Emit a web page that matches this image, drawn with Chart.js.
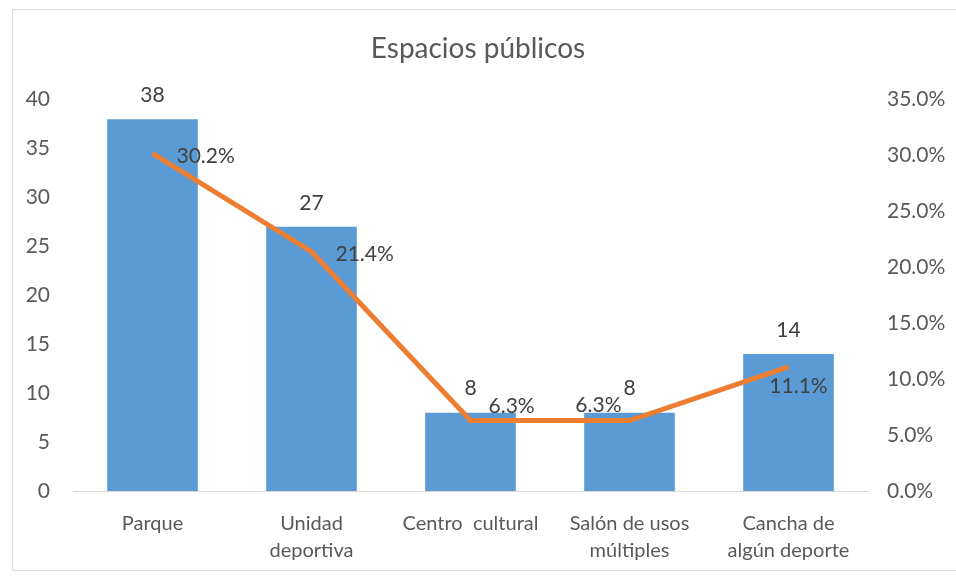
<!DOCTYPE html>
<html>
<head>
<meta charset="utf-8">
<script src="https://cdn.jsdelivr.net/npm/chart.js@4.4.0/dist/chart.umd.min.js"></script>
<style>
    html, body { margin: 0; padding: 0; background: #fff; }
    #wrap { position: relative; width: 956px; height: 577px; }
    #frame {
        position: absolute; left: 12px; top: 9px;
        width: 950px; height: 562px;
        border: 1px solid #d9d9d9; box-sizing: border-box;
    }
    canvas { position: absolute; left: 0; top: 0; }
</style>
</head>
<body>
<div id="wrap">
    <div id="frame"></div>
    <canvas id="chart" width="956" height="577"></canvas>
</div>
<script>
// chart data
const categories = ['Parque', ['Unidad', 'deportiva'], 'Centro  cultural',
                    ['Salón de usos', 'múltiples'], ['Cancha de', 'algún deporte']];
const counts = [38, 27, 8, 8, 14];
const shares = [30.2, 21.4, 6.3, 6.3, 11.1];
const countAxis = [0, 40, 5];    // min, max, step
const shareAxis = [0, 35, 5];    // min, max, step (percent)

const textColor = '#595959';
const fontFamily = 'Lato, "Open Sans", sans-serif';

// where each percentage label sits relative to its line point
const shareLabelAnchor = ['right', 'right', 'above-right', 'above-left', 'below'];

const valueLabels = {
    id: 'valueLabels',
    afterDatasetsDraw(chart) {
        const ctx = chart.ctx;
        ctx.save();
        ctx.fillStyle = '#404040';
        ctx.font = '21px ' + fontFamily;
        ctx.textBaseline = 'middle';

        // bar counts, centered above each bar
        ctx.textAlign = 'center';
        chart.getDatasetMeta(0).data.forEach((el, i) => {
            ctx.fillText(String(counts[i]), el.x, el.y - 24);
        });

        // percentages next to the line points
        chart.getDatasetMeta(1).data.forEach((el, i) => {
            let txt = shares[i].toFixed(1) + '%';
            let x = el.x, y = el.y;
            switch (shareLabelAnchor[i]) {
                case 'right':
                    ctx.textAlign = 'left'; x += 24; y += 3; break;
                case 'above-right':
                    ctx.textAlign = 'left'; x += 18; y -= 14; break;
                case 'above-left':
                    ctx.textAlign = 'right'; x -= 8; y -= 15; break;
                default:
                    ctx.textAlign = 'center'; x += 10; y += 19;
            }
            ctx.fillText(txt, x, y);
        });
        ctx.restore();
    }
};

new Chart(document.getElementById('chart'), {
    type: 'bar',
    data: {
        labels: categories,
        datasets: [{
            type: 'bar',
            data: counts,
            backgroundColor: '#5b9bd5',
            categoryPercentage: 1,
            barPercentage: 0.57,
            yAxisID: 'y',
            order: 1
        }, {
            type: 'line',
            data: shares,
            borderColor: '#ed7d31',
            borderWidth: 5,
            pointRadius: 0,
            tension: 0,
            fill: false,
            yAxisID: 'y2',
            order: 0
        }]
    },
    options: {
        responsive: false,
        animation: false,
        layout: { padding: 0 },
        plugins: {
            legend: { display: false },
            tooltip: { enabled: false },
            title: {
                display: true,
                text: 'Espacios públicos',
                color: textColor,
                font: { family: fontFamily, size: 28, weight: 'normal' },
                padding: { top: 32, bottom: 34 }
            }
        },
        scales: {
            x: {
                grid: { display: false, drawTicks: false },
                border: { display: true, color: '#d9d9d9', width: 1 },
                ticks: {
                    color: textColor,
                    padding: 19,
                    maxRotation: 0,
                    autoSkip: false,
                    font: { family: fontFamily, size: 20, lineHeight: 1.35 }
                },
                afterFit(scale) { scale.height = 86; }
            },
            y: {
                position: 'left',
                min: countAxis[0],
                max: countAxis[1],
                grid: { display: false, drawTicks: false },
                border: { display: false },
                ticks: {
                    stepSize: countAxis[2],
                    color: textColor,
                    padding: 23,
                    font: { family: fontFamily, size: 21 }
                },
                afterFit(scale) { scale.width = 73; }
            },
            y2: {
                position: 'right',
                min: shareAxis[0],
                max: shareAxis[1],
                grid: { display: false, drawTicks: false },
                border: { display: false },
                ticks: {
                    stepSize: shareAxis[2],
                    color: textColor,
                    padding: 19,
                    font: { family: fontFamily, size: 21 },
                    callback: (v) => v.toFixed(1) + '%'
                },
                afterFit(scale) { scale.width = 88; }
            }
        }
    },
    plugins: [valueLabels]
});
</script>
</body>
</html>
